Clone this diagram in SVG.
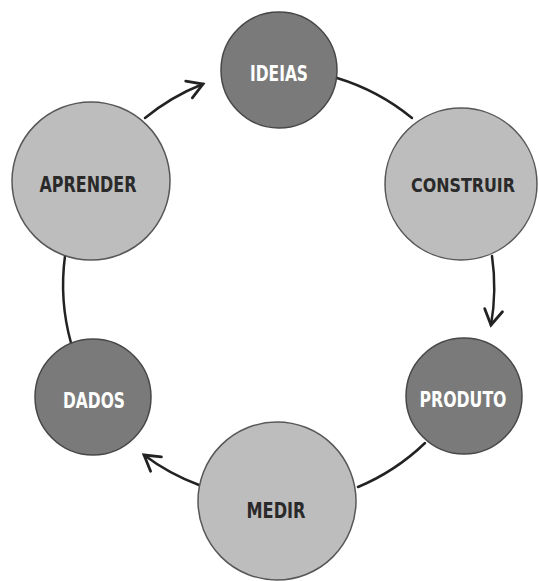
<svg xmlns="http://www.w3.org/2000/svg" width="539" height="581" viewBox="0 0 539 581">
<style>
.dark{fill:#7a7a7a;stroke:#474747;stroke-width:1.5}
.light{fill:#bdbdbd;stroke:#575757;stroke-width:1.5}
text{font-family:"DejaVu Sans Condensed","DejaVu Sans","Liberation Sans",sans-serif;font-weight:bold;font-size:22px;text-anchor:middle}
.tw{fill:#ffffff}
.tk{fill:#2a2a2a}
.conn{fill:none;stroke:#222222;stroke-width:2.5;stroke-linecap:round}
</style>
<defs>
<marker id="arr" markerUnits="userSpaceOnUse" markerWidth="24" markerHeight="24" viewBox="-20 -12 24 24" refX="0" refY="0" orient="auto">
<polyline points="-15,-9 0,0 -15,9" fill="none" stroke="#222222" stroke-width="2.8" stroke-linecap="round" stroke-linejoin="miter"/>
</marker>
</defs>
<rect width="539" height="581" fill="#ffffff"/>
<g id="connectors">
<path class="conn" d="M145,118 A218,218 0 0 1 203,84" marker-end="url(#arr)"/>
<path class="conn" d="M337,78 A218,218 0 0 1 412,118"/>
<path class="conn" d="M492,256 A218,218 0 0 1 491,325" marker-end="url(#arr)"/>
<path class="conn" d="M425,443 A218,218 0 0 1 358,487"/>
<path class="conn" d="M199,485 A218,218 0 0 1 144,455" marker-end="url(#arr)"/>
<path class="conn" d="M71,343 A218,218 0 0 1 65,256"/>
</g>
<g id="ideias">
<circle class="dark" cx="279" cy="70" r="58"/>
<text class="tw" x="279" y="81" textLength="58" lengthAdjust="spacingAndGlyphs">IDEIAS</text>
</g>
<g id="construir">
<circle class="light" cx="461" cy="184" r="76"/>
<text class="tk" x="463" y="192" style="font-size:20px" textLength="104" lengthAdjust="spacingAndGlyphs">CONSTRUIR</text>
</g>
<g id="produto">
<circle class="dark" cx="464" cy="396" r="58"/>
<text class="tw" x="463" y="407" textLength="87" lengthAdjust="spacingAndGlyphs">PRODUTO</text>
</g>
<g id="medir">
<circle class="light" cx="277" cy="501" r="79"/>
<text class="tk" x="276" y="518" textLength="59" lengthAdjust="spacingAndGlyphs">MEDIR</text>
</g>
<g id="dados">
<circle class="dark" cx="93" cy="397" r="58"/>
<text class="tw" x="94" y="408" textLength="62" lengthAdjust="spacingAndGlyphs">DADOS</text>
</g>
<g id="aprender">
<circle class="light" cx="91" cy="181" r="79"/>
<text class="tk" x="88" y="192" textLength="97" lengthAdjust="spacingAndGlyphs">APRENDER</text>
</g>
</svg>
